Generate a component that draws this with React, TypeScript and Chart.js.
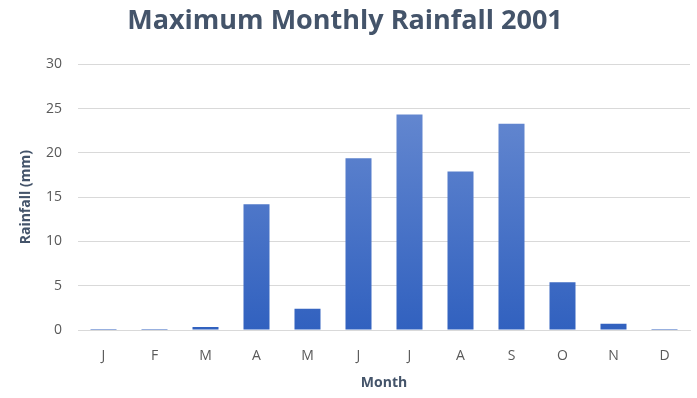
import React, { useEffect, useRef } from "react";
import { Chart, registerables } from "chart.js";

Chart.register(...registerables);

const months = ["J", "F", "M", "A", "M", "J", "J", "A", "S", "O", "N", "D"];
const rainfall = [0.1, 0.1, 0.35, 14.2, 2.4, 19.4, 24.35, 17.9, 23.3, 5.4, 0.7, 0.1];
const yTicks = [0, 5, 10, 15, 20, 25, 30];
const chartTitle = "Maximum Monthly Rainfall 2001";
const xTitle = "Month";
const yTitle = "Rainfall (mm)";

export default function App() {
  const ref = useRef<HTMLCanvasElement>(null);
  useEffect(() => {
    const canvas = ref.current!;
    const chart = new Chart(canvas, {
      type: "bar",
      data: {
        labels: months,
        datasets: [
          {
            data: rainfall,
            backgroundColor: (ctx: any) => {
              const c = ctx.chart;
              const area = c.chartArea;
              if (!area) return "#4472C4";
              const g = c.ctx.createLinearGradient(0, area.top, 0, area.bottom);
              g.addColorStop(0, "#6E8FD3");
              g.addColorStop(1, "#3161BF");
              return g;
            },
            borderWidth: 0,
            categoryPercentage: 1,
            barPercentage: 0.51,
          },
        ],
      },
      options: {
        responsive: false,
        animation: false,
        layout: { padding: { left: 0, right: 7, top: 0, bottom: 0 } },
        plugins: {
          legend: { display: false },
          tooltip: { enabled: false },
          title: {
            display: true,
            text: chartTitle,
            color: "#44546A",
            font: { family: "Open Sans", size: 27, weight: "bold" },
            padding: { top: 5, bottom: 27 },
          },
        },
        scales: {
          x: {
            grid: { display: false, drawTicks: false },
            border: { display: true, color: "#D9D9D9", width: 1 },
            ticks: {
              color: "#595959",
              font: { family: "Open Sans", size: 14 },
              padding: 18,
            },
            title: {
              display: true,
              text: xTitle,
              color: "#44546A",
              font: { family: "Open Sans", size: 14, weight: "bold" },
              padding: { top: 6, bottom: 7 },
            },
            afterFit: (s: any) => {
              s.height = 68;
            },
          },
          y: {
            min: 0,
            max: 30,
            afterBuildTicks: (s: any) => {
              s.ticks = yTicks.map((v) => ({ value: v }));
            },
            grid: { color: "#D9D9D9", lineWidth: 1, drawTicks: false },
            border: { display: false },
            ticks: {
              color: "#595959",
              font: { family: "Open Sans", size: 14 },
              padding: 16,
            },
            title: {
              display: true,
              text: yTitle,
              color: "#44546A",
              font: { family: "Open Sans", size: 14, weight: "bold" },
              padding: { top: 18, bottom: 6 },
            },
            afterFit: (s: any) => {
              s.width = 78;
            },
          },
        },
      },
    });
    return () => chart.destroy();
  }, []);
  return (
    <div style={{ position: "fixed", left: 0, top: 0, width: 697, height: 398, background: "#fff" }}>
      <canvas ref={ref} width={697} height={398} style={{ display: "block" }} />
    </div>
  );
}
